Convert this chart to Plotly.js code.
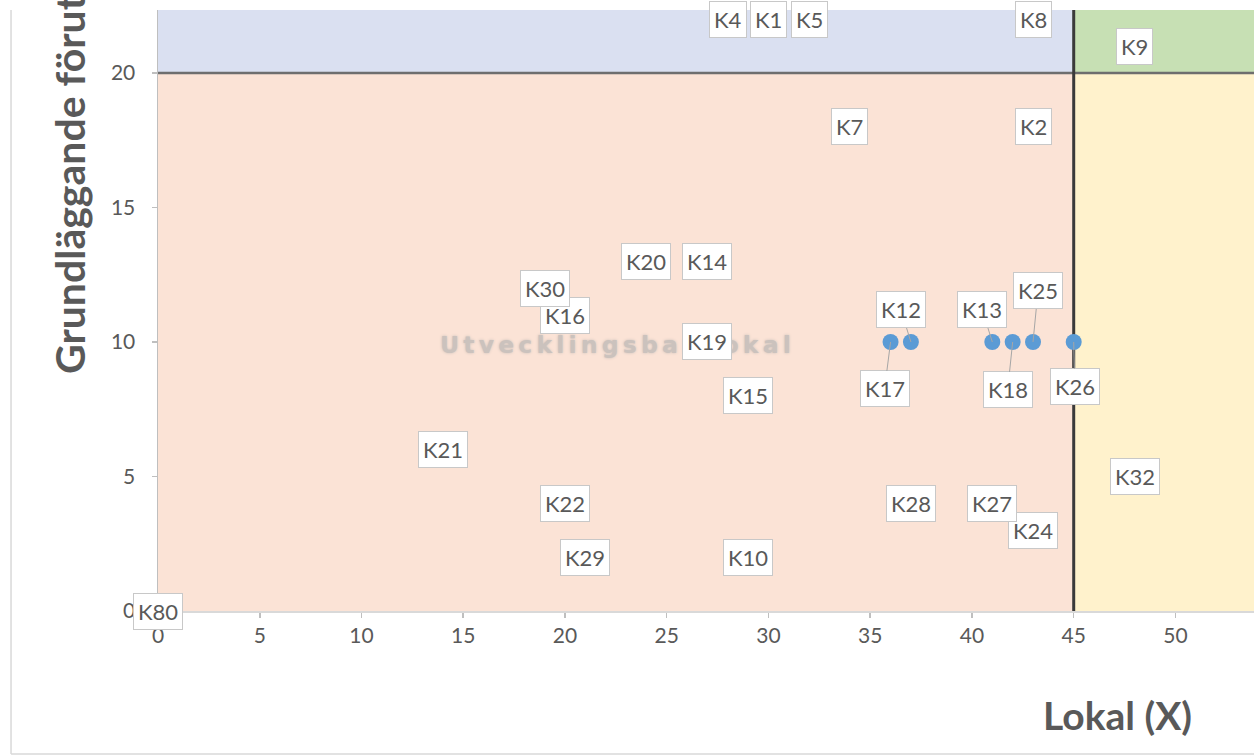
<!DOCTYPE html>
<html>
<head>
<meta charset="utf-8">
<script src="https://cdn.plot.ly/plotly-3.0.1.min.js"></script>
<style>
html, body { margin: 0; padding: 0; background: #ffffff; }
#chart { width: 1254px; height: 755px; }
</style>
</head>
<body>
<div id="chart"></div>
<script>
// ---- data ----
const names   = ['K1','K2','K4','K5','K7','K8','K9','K10','K12','K13','K14','K15','K16','K17','K18','K19','K20','K21','K22','K24','K25','K26','K27','K28','K29','K30','K32','K80'];
const xValues = [30, 43, 28, 32, 34, 43, 48, 29, 37, 41, 27, 29, 20, 36, 42, 27, 24, 14, 20, 43, 43, 45, 41, 37, 21, 19, 48, 0];
const yValues = [22, 18, 22, 22, 18, 22, 21,  2, 10, 10, 13,  8, 11, 10, 10, 10, 13,  6,  4,  3, 10, 10,  4,  4,  2, 12,  5, 0];
const xTicks = [0, 5, 10, 15, 20, 25, 30, 35, 40, 45, 50];
const yTicks = [0, 5, 10, 15, 20];
const xThreshold = 45;
const yThreshold = 20;
const xAxisTitle = 'Lokal (X)';
const yAxisTitle = 'Grundläggande förutsättningar (Y)';
const zoneLabel = 'Utvecklingsbar lokal';

// ---- styling ----
// callout label offsets in pixels (label centre relative to its point)
const callouts = {
  K12: [-10, -32], K17: [-6, 47], K13: [-10, -32],
  K25: [5, -51], K18: [-5, 48], K26: [1, 45]
};
const FONT = 'Lato, "Open Sans", sans-serif';
const TXT = '#595959';
const X_MAX = 53.86, Y_MAX = 22.34;
const colors = { blue: '#dae0f1', green: '#c7e0b4', peach: '#fbe3d6', yellow: '#fff2cc' };

const trace = {
  type: 'scatter', mode: 'markers',
  x: xValues, y: yValues, text: names,
  marker: { color: '#5b9bd5', size: 16 },
  hoverinfo: 'text', cliponaxis: false
};

const shapes = [
  { type: 'rect', xref: 'x', yref: 'y', x0: 0, x1: xThreshold, y0: yThreshold, y1: 100, fillcolor: colors.blue, line: { width: 0 }, layer: 'below' },
  { type: 'rect', xref: 'x', yref: 'y', x0: xThreshold, x1: 100, y0: yThreshold, y1: 100, fillcolor: colors.green, line: { width: 0 }, layer: 'below' },
  { type: 'rect', xref: 'x', yref: 'y', x0: 0, x1: xThreshold, y0: 0, y1: yThreshold, fillcolor: colors.peach, line: { width: 0 }, layer: 'below' },
  { type: 'rect', xref: 'x', yref: 'y', x0: xThreshold, x1: 100, y0: 0, y1: yThreshold, fillcolor: colors.yellow, line: { width: 0 }, layer: 'below' },
  { type: 'line', xref: 'x', yref: 'y', x0: 0, x1: 100, y0: yThreshold, y1: yThreshold, line: { color: '#6e6e6e', width: 2.5 }, layer: 'below' },
  { type: 'line', xref: 'x', yref: 'y', x0: xThreshold, x1: xThreshold, y0: 0, y1: 100, line: { color: '#3a3a3a', width: 3 }, layer: 'below' },
  // chart-area border
  { type: 'line', xref: 'paper', yref: 'paper', x0: -0.1341, x1: -0.1341, y0: -0.2379, y1: 1, line: { color: '#d9d9d9', width: 1.5 } },
  { type: 'line', xref: 'paper', yref: 'paper', x0: -0.1341, x1: 1, y0: -0.2379, y1: -0.2379, line: { color: '#d9d9d9', width: 1.5 } }
];

const annotations = [
  {
    xref: 'paper', yref: 'paper', x: 0.4188, y: 0.4426, showarrow: false,
    text: '<span style="letter-spacing:4.2px">' + zoneLabel + '</span>',
    font: { family: '"DejaVu Sans", sans-serif', size: 23.5, color: '#cbc2bd', weight: 700, shadow: '0px 0px 3px #c8bfba' }
  }
];

names.forEach((n, i) => {
  const off = callouts[n];
  annotations.push({
    x: xValues[i], y: yValues[i], xref: 'x', yref: 'y',
    text: n,
    showarrow: !!off,
    ax: off ? off[0] : 0, ay: off ? off[1] : 0,
    arrowhead: 0, arrowwidth: 1, arrowcolor: '#a6a6a6', standoff: 0,
    font: { family: FONT, size: 22, color: TXT },
    bgcolor: '#ffffff', bordercolor: '#c8c8c8', borderwidth: 1, borderpad: 4
  });
});

annotations.push({
  xref: 'paper', yref: 'paper', x: 0.875, y: -0.173, xanchor: 'center', yanchor: 'middle',
  showarrow: false, text: xAxisTitle,
  font: { family: FONT, size: 39, color: TXT, weight: 700 }
});
annotations.push({
  xref: 'paper', yref: 'paper', x: -0.0812, y: 0.391, xanchor: 'center', yanchor: 'bottom',
  showarrow: false, textangle: -90, text: yAxisTitle,
  font: { family: FONT, size: 41, color: TXT, weight: 700 }
});

const layout = {
  width: 1254, height: 755,
  margin: { l: 158, r: 0, t: 10, b: 144, pad: 0 },
  paper_bgcolor: '#ffffff', plot_bgcolor: '#ffffff',
  showlegend: false,
  xaxis: {
    range: [0, X_MAX], tickvals: xTicks, ticktext: xTicks.map(String),
    showgrid: false, zeroline: false, showline: true, linecolor: '#d9d9d9', linewidth: 1.5,
    ticks: 'outside', ticklen: 5, tickcolor: '#bfbfbf', tickwidth: 1.5,
    tickfont: { family: FONT, size: 21, color: TXT }, automargin: false, fixedrange: true
  },
  yaxis: {
    range: [0, Y_MAX], tickvals: yTicks, ticktext: yTicks.map(String),
    showgrid: false, zeroline: false, showline: true, linecolor: '#bfbfbf', linewidth: 1.5,
    ticks: 'outside', ticklen: 5, tickcolor: '#bfbfbf', tickwidth: 1.5, ticklabelstandoff: 12,
    tickfont: { family: FONT, size: 21, color: TXT }, automargin: false, fixedrange: true
  },
  shapes: shapes,
  annotations: annotations
};

Plotly.newPlot('chart', [trace], layout, { displayModeBar: false, staticPlot: true });
</script>
</body>
</html>
